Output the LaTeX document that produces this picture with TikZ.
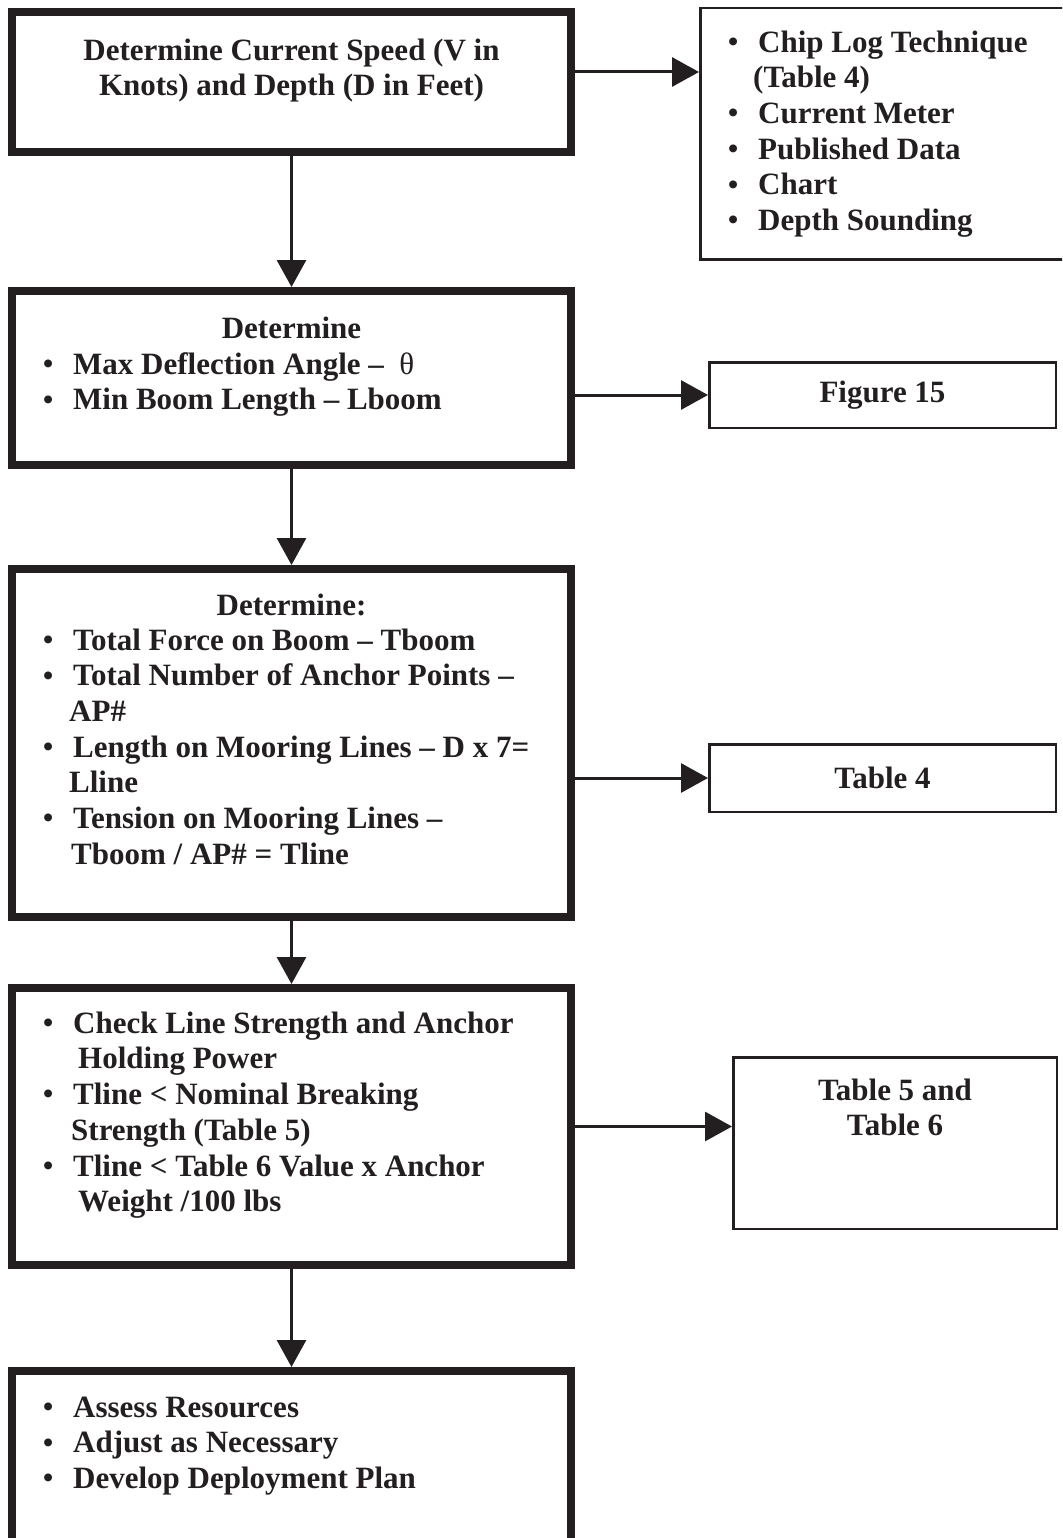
\documentclass[tikz,border=0pt]{standalone}
\usepackage{fontspec}
\setmainfont{Liberation Serif}
\usetikzlibrary{arrows.meta}
\definecolor{ink}{RGB}{35,31,32}
% bullet sitting in a fixed slot before the item text
\newcommand{\bul}{\hbox to 30pt{\hbox to 10pt{\hss\raisebox{0.8pt}{\fontsize{29}{29}\selectfont\textbullet}\hss}\hss}}

\begin{document}
\begin{tikzpicture}[x=1pt, y=-1pt,
    bigbox/.style={draw=ink, line width=8pt, anchor=north west, minimum width=559pt, inner sep=0pt},
    smallbox/.style={draw=ink, line width=2.5pt, anchor=north west, inner sep=0pt, align=center,
      font=\fontsize{31}{35.7}\selectfont\bfseries, text=ink},
    txt/.style={inner sep=0pt, font=\fontsize{31}{35.7}\selectfont\bfseries, text=ink},
    lst/.style={txt, align=left, anchor=north west},
    arr/.style={draw=ink, line width=3pt, -{Triangle[length=27pt, width=29pt]}}]
  \useasboundingbox (0,0) rectangle (1062,1538);
  \clip (0,0) rectangle (1062,1538);

  % boxes
  \node (b1) [bigbox, minimum height=140pt] at (8,8) {};
  \node (r1) [smallbox, minimum width=380pt, minimum height=251.5pt] at (699,7) {};
  \node (b2) [bigbox, minimum height=174pt] at (8,287) {};
  \node (r2) [smallbox, minimum width=346.5pt, minimum height=65.5pt] at (708,361) {Figure 15};
  \node (b3) [bigbox, minimum height=348pt] at (8,565) {};
  \node (r3) [smallbox, minimum width=346.5pt, minimum height=67.5pt] at (708,743) {Table 4};
  \node (b4) [bigbox, minimum height=277pt] at (8,984) {};
  \node (r4) [smallbox, minimum width=323.5pt, minimum height=171.5pt] at (732,1056) {};
  \node (b5) [bigbox, minimum height=200pt] at (8,1367) {};

  % texts
  \node (t1) [txt, align=center, anchor=north] at (291.5,35)
    {\strut Determine Current Speed (V in\\Knots) and Depth (D in Feet)};
  \node (l1) [lst] at (728,27)
    {\strut\bul Chip Log Technique\\\hspace*{25pt}(Table 4)\\\bul Current Meter\\
     \bul Published Data\\\bul Chart\\\bul Depth Sounding};
  \node (t2) [txt, anchor=north] at (291.5,313) {\strut Determine};
  \node (l2) [lst] at (43,349)
    {\strut\bul Max Deflection Angle --\ \ {\mdseries θ}\\\bul Min Boom Length -- Lboom};
  \node (t3) [txt, anchor=north] at (291.5,590) {\strut Determine:};
  \node (l3) [lst] at (43,625)
    {\strut\bul Total Force on Boom -- Tboom\\\bul Total Number of Anchor Points --\\
     \hspace*{26pt}AP\#\\\bul Length on Mooring Lines -- D x 7=\\\hspace*{26pt}Lline\\
     \bul Tension on Mooring Lines --\\\hspace*{28pt}Tboom / AP\# = Tline};
  \node (l4) [lst] at (43,1008)
    {\strut\bul Check Line Strength and Anchor\\\hspace*{35pt}Holding Power\\
     \bul Tline < Nominal Breaking\\\hspace*{28pt}Strength (Table 5)\\
     \bul Tline < Table 6 Value x Anchor\\\hspace*{35pt}Weight /100 lbs};
  \node (t4) [txt, align=center, anchor=north] at ([yshift=-19pt]r4.north)
    {\strut Table 5 and\\Table 6};
  \node (l5) [lst] at (43,1392)
    {\strut\bul Assess Resources\\\bul Adjust as Necessary\\\bul Develop Deployment Plan};

  % connectors
  \coordinate (c1) at ([yshift=10pt]b1.east);
  \draw[arr] (b1) -- (b2);
  \draw[arr] (b2) -- (b3);
  \draw[arr] (b3) -- (b4);
  \draw[arr] (b4) -- (b5);
  \draw[arr] (c1) -- (c1 -| r1.west);
  \draw[arr] (b2.east |- r2.west) -- (r2.west);
  \draw[arr] (b3.east |- r3.west) -- (r3.west);
  \draw[arr] (b4.east) -- (b4.east -| r4.west);
\end{tikzpicture}
\end{document}
